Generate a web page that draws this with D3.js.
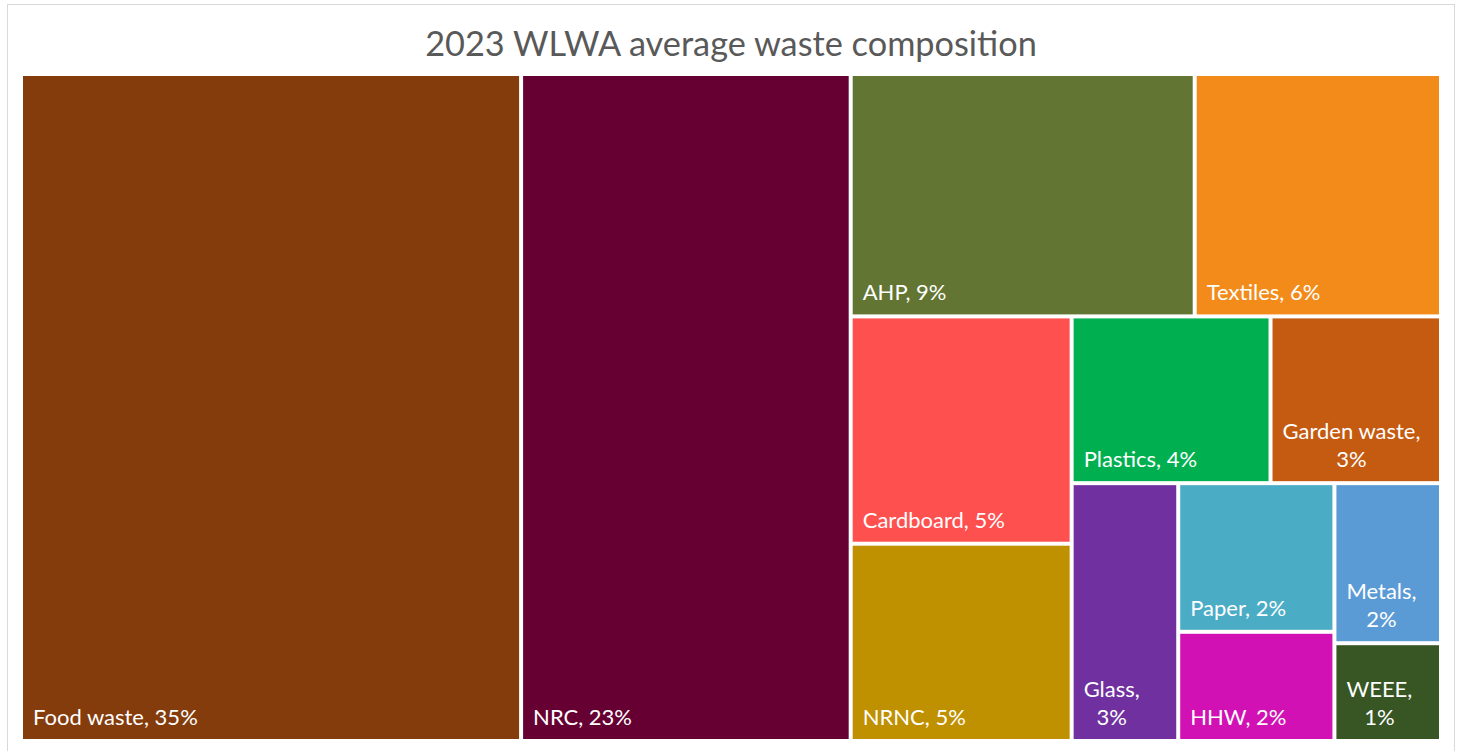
<!DOCTYPE html>
<html>
<head>
<meta charset="utf-8">
<script src="https://cdn.jsdelivr.net/npm/d3@7"></script>
<style>
  body { margin: 0; background: #fff; }
  svg { display: block; }
  .label { font-family: Lato, 'Open Sans', sans-serif; font-size: 22px; fill: #fff; }
</style>
</head>
<body>
<svg id="treemap" width="1461" height="751"></svg>
<script>
// data (share of total, %)
var title = '2023 WLWA average waste composition';
var categories = ['Food waste', 'NRC', 'AHP', 'Textiles', 'Cardboard', 'NRNC', 'Plastics', 'Garden waste', 'Glass', 'Paper', 'HHW', 'Metals', 'WEEE'];
var shares = [35.2, 23.2, 8.8, 6.3, 5.3, 4.6, 3.5, 3.0, 2.9, 2.45, 1.8, 1.8, 1.1];
var colors = ['#843C0C', '#660033', '#637532', '#F38B1A', '#FF5050', '#BF9000', '#00B050', '#C55A11', '#7030A0', '#4BACC6', '#D211B4', '#5B9BD5', '#375623'];

// strip grouping used by Excel's layout, nested in slice/dice order
var groups = ['Food waste', 'NRC',
  [['AHP', 'Textiles'],
   [['Cardboard', 'NRNC'],
    [['Plastics', 'Garden waste'],
     ['Glass', ['Paper', 'HHW'], ['Metals', 'WEEE']]]]]];

var margin = { top: 76, left: 23, bottom: 12, right: 22 };

var svg = d3.select('#treemap');
var width = svg.attr('width') - margin.left - margin.right;
var height = svg.attr('height') - margin.top - margin.bottom;

var total = d3.sum(shares);
var color = d3.scaleOrdinal().domain(categories).range(colors);

function toNode(g) {
  if (typeof g === 'string') return { name: g, value: shares[categories.indexOf(g)] };
  return { children: g.map(toNode) };
}

var root = d3.hierarchy({ children: groups.map(toNode) })
  .sum(function(d) { return d.value || 0; });

d3.treemap()
  .tile(d3.treemapSliceDice)
  .size([width, height])
  .paddingInner(4)(root);

// chart frame
svg.append('rect')
  .attr('x', 7.5).attr('y', 4.5)
  .attr('width', 1447).attr('height', 760)
  .attr('fill', 'none')
  .attr('stroke', '#D9D9D9');

svg.append('text')
  .attr('x', 731).attr('y', 56)
  .attr('text-anchor', 'middle')
  .attr('font-family', 'Lato, sans-serif')
  .attr('font-size', 34.3)
  .attr('fill', '#595959')
  .text(title);

var plot = svg.append('g')
  .attr('transform', 'translate(' + margin.left + ',' + margin.top + ')');

var cell = plot.selectAll('g.cell')
  .data(root.leaves())
  .enter()
  .append('g')
  .attr('class', 'cell');

cell.append('rect')
  .attr('x', function(d) { return d.x0; })
  .attr('y', function(d) { return d.y0; })
  .attr('width', function(d) { return d.x1 - d.x0; })
  .attr('height', function(d) { return d.y1 - d.y0; })
  .attr('fill', function(d) { return color(d.data.name); });

// labels: bottom-left, wrapped when they don't fit, lines centred in their block
var lineH = 28;
cell.each(function(d) {
  var g = d3.select(this);
  var pct = Math.round(d.value / total * 100);
  var words = (d.data.name + ', ' + pct + '%').split(' ');
  var maxW = d.x1 - d.x0 - 20;
  var probe = g.append('text').attr('class', 'label');
  var lines = [], line = [];
  words.forEach(function(w) {
    line.push(w);
    probe.text(line.join(' '));
    if (probe.node().getComputedTextLength() > maxW && line.length > 1) {
      line.pop();
      lines.push(line.join(' '));
      line = [w];
    }
  });
  lines.push(line.join(' '));
  var widths = lines.map(function(l) { probe.text(l); return probe.node().getComputedTextLength(); });
  probe.remove();
  var blockW = d3.max(widths);
  var n = lines.length;
  g.selectAll('text.label')
    .data(lines)
    .enter()
    .append('text')
    .attr('class', 'label')
    .attr('text-anchor', 'middle')
    .attr('x', d.x0 + 10 + blockW / 2)
    .attr('y', function(l, i) { return d.y1 - 14 - (n - 1 - i) * lineH; })
    .text(function(l) { return l; });
});
</script>
</body>
</html>
